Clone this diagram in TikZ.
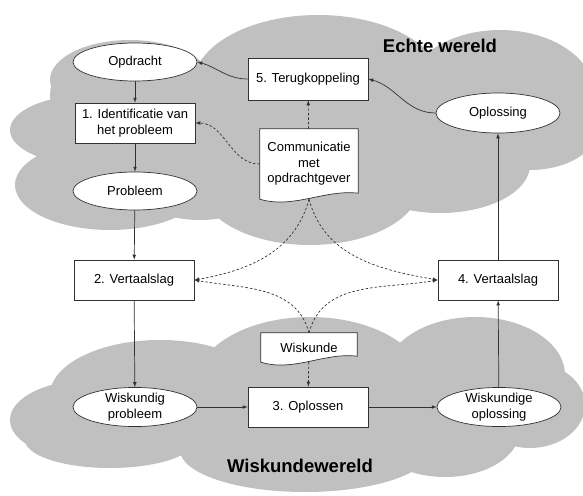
\documentclass[tikz,border=0pt]{standalone}
\usepackage{fontspec}
\setmainfont{Liberation Sans}
\usepackage{tikz}
\usetikzlibrary{shapes.geometric}
\usetikzlibrary{arrows}
\usetikzlibrary{backgrounds}

\definecolor{wolk}{RGB}{192,192,192}
\definecolor{lijn}{RGB}{50,50,50}

\begin{document}
\begin{tikzpicture}[x=1pt,y=1pt,>=latex]

\tikzset{stap/.style={rectangle, draw=lijn, fill=white, line width=0.7pt,
    minimum width=120pt, minimum height=40pt, align=center, inner sep=0pt,
    font=\fontsize{13}{15.5}\selectfont},
  ovaal/.style={ellipse, draw=lijn, fill=white, line width=0.7pt,
    minimum width=124pt, minimum height=38pt, align=center, inner sep=0pt,
    font=\fontsize{13}{15.5}\selectfont},
  docvorm/.style={rectangle, inner sep=0pt, align=center, minimum width=98pt,
    font=\fontsize{13}{15.5}\selectfont},
  pijl/.style={->, draw=lijn, line width=0.7pt},
  overleg/.style={->, draw=lijn, line width=0.7pt, dash pattern=on 2.5pt off 2pt},
  wereld/.style={font=\fontsize{18.5}{22}\selectfont\bfseries}
}

\useasboundingbox (0,0) rectangle (583,-495);

% echte wereld
\node[wereld] (echt) at (440,-46) {Echte wereld};
\node[ovaal] (opdr) at (135,-62) {Opdracht};
\node[stap] (ident) at (135,-123) {1. Identificatie van\\het probleem};
\node[ovaal] (probl) at (135,-191) {Probleem};
\node[stap, minimum height=42pt] (terug) at (308,-79) {5. Terugkoppeling};
\node[docvorm, minimum height=70pt] (comm) at (309,-164) {Communicatie\\met\\opdrachtgever};
\node[ovaal, minimum height=40pt] (oplos) at (498,-113) {Oplossing};

% vertaalslagen
\node[stap] (vert2) at (134,-280) {2. Vertaalslag};
\node[stap] (vert4) at (498,-280) {4. Vertaalslag};

% wiskundewereld
\node[docvorm, minimum height=29pt, minimum width=96pt] (wisk) at (309,-347.5) {Wiskunde};
\node[ovaal, minimum height=39pt] (wprobl) at (135,-407) {Wiskundig\\probleem};
\node[stap] (oplossen) at (308,-407) {3. Oplossen};
\node[ovaal, minimum height=39pt] (woplos) at (499,-407) {Wiskundige\\oplossing};
\node[wereld] (wisw) at (300,-466) {Wiskundewereld};

\begin{scope}[on background layer]
\fill[wolk] (135,-95) ellipse [x radius=85, y radius=53]
  (130,-80) ellipse [x radius=80, y radius=40]
  (90,-130) ellipse [x radius=80, y radius=35]
  (110,-185) ellipse [x radius=95, y radius=45]
  (318,-85) ellipse [x radius=125, y radius=70]
  (500,-95) ellipse [x radius=95, y radius=65]
  (530,-125) ellipse [x radius=70, y radius=45]
  (440,-165) ellipse [x radius=90, y radius=48]
  (310,-185) ellipse [x radius=110, y radius=60]
  (200,-170) ellipse [x radius=80, y radius=50];
\fill[wolk] (310,-385) ellipse [x radius=115, y radius=68]
  (475,-375) ellipse [x radius=90, y radius=58]
  (530,-405) ellipse [x radius=55, y radius=43]
  (160,-395) ellipse [x radius=110, y radius=55]
  (90,-420) ellipse [x radius=80, y radius=40]
  (110,-440) ellipse [x radius=85, y radius=28]
  (305,-450) ellipse [x radius=125, y radius=42]
  (445,-430) ellipse [x radius=75, y radius=47];
\foreach \d in {comm,wisk}
  \filldraw[fill=white, draw=lijn, line width=0.7pt] (\d.south west) -- (\d.north west)
    -- (\d.north east) -- ([yshift=6pt]\d.south east)
    .. controls ([xshift=-33pt,yshift=10pt]\d.south east) and ([xshift=33pt,yshift=-10pt]\d.south west)
    .. (\d.south west) -- cycle;
\end{scope}

\draw[pijl] (opdr) -- (ident);
\draw[pijl] (ident) -- (probl);
\draw[pijl] (probl) -- (vert2);
\draw[pijl] (vert2) -- (wprobl);
\draw[pijl] (wprobl) -- (oplossen);
\draw[pijl] (oplossen) -- (woplos);
\draw[pijl] (woplos) -- (vert4);
\draw[pijl] (vert4) -- (oplos);
\draw[pijl] (oplos.west) to[out=180,in=-15] (terug.east);
\draw[pijl] (terug.west) to[out=180,in=-15] (opdr.east);

\draw[overleg] (comm) -- (terug);
\draw[overleg] (comm.west) to[out=180,in=0] (ident.east);
\draw[overleg] (comm.south) to[out=-105,in=10] (vert2.east);
\draw[overleg] (comm.south) to[out=-75,in=170] (vert4.west);
\draw[overleg] (wisk.north) to[out=105,in=-10] (vert2.east);
\draw[overleg] (wisk.north) to[out=75,in=-170] (vert4.west);
\draw[overleg] (wisk) -- (oplossen);

\end{tikzpicture}
\end{document}
